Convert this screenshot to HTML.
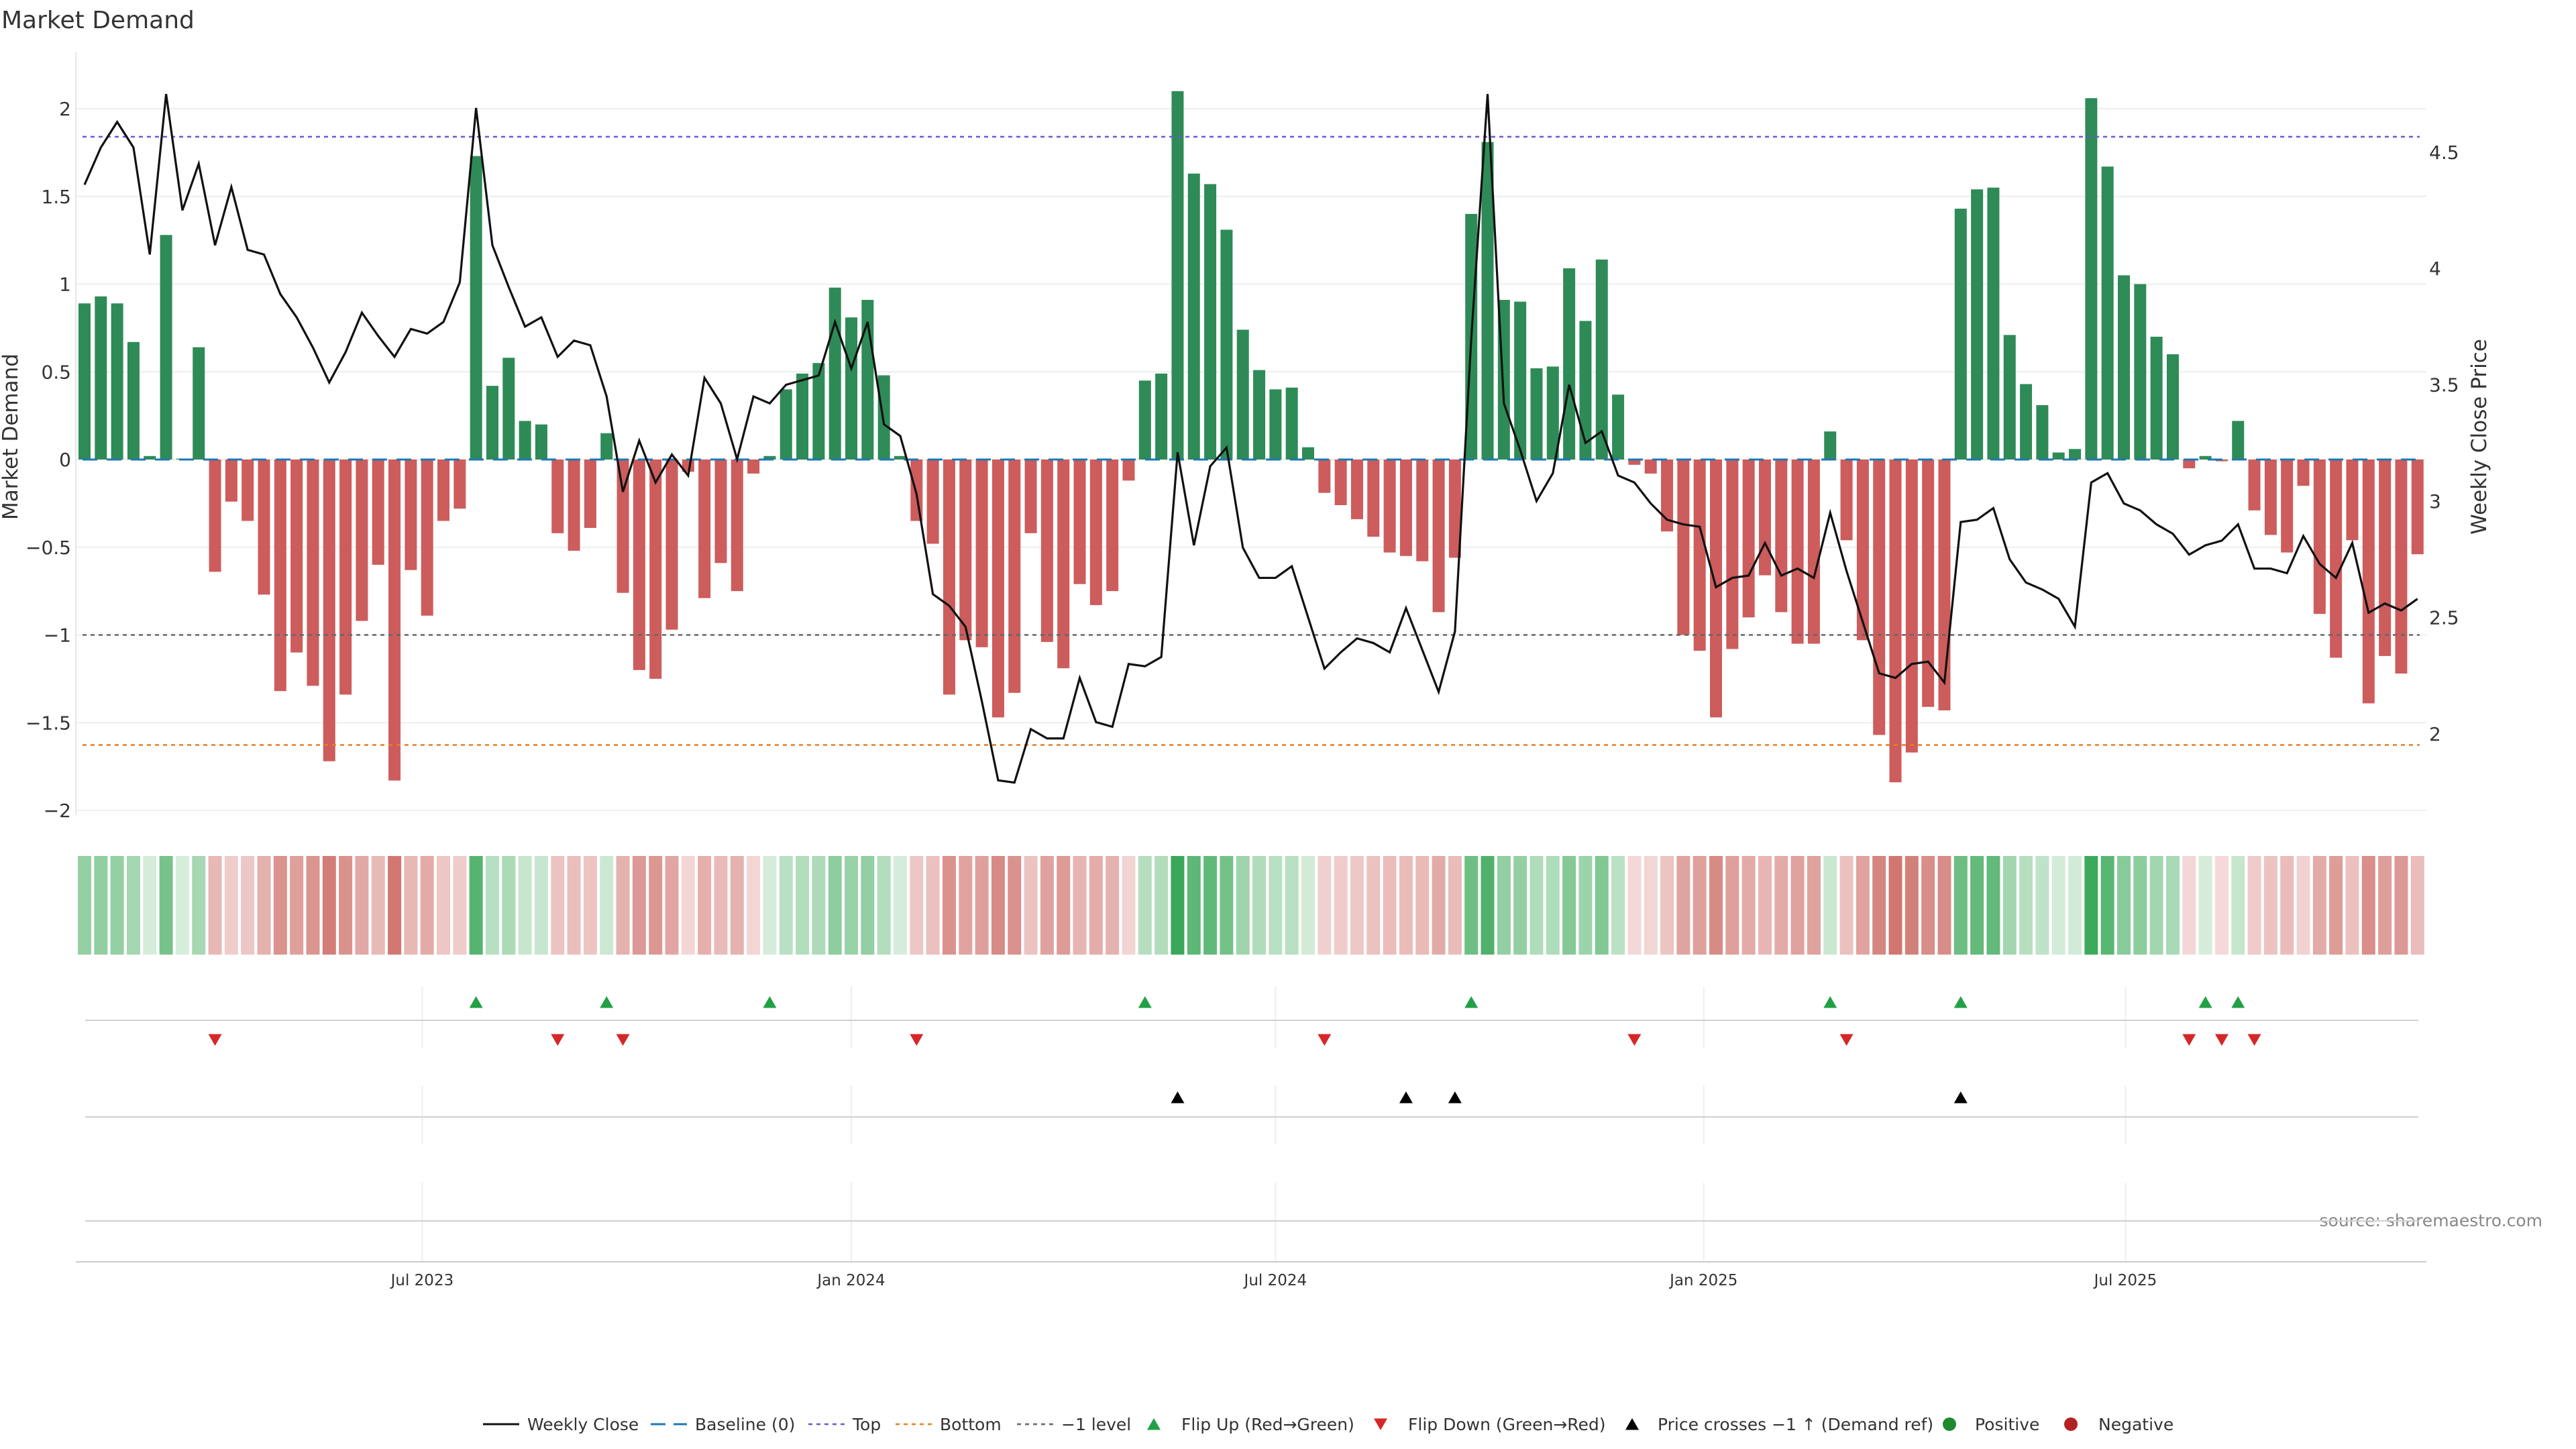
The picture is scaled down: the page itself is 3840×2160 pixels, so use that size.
<!DOCTYPE html>
<html><head><meta charset="utf-8"><title>Market Demand</title>
<style>
html,body{margin:0;padding:0;background:#fff;}
svg{display:block;font-family:"DejaVu Sans","Liberation Sans",sans-serif;}
</style></head>
<body>
<svg id="chart" width="3840" height="2160" viewBox="0 0 3840 2160" xmlns="http://www.w3.org/2000/svg">
<rect x="0" y="0" width="3840" height="2160" fill="#fff"/>
<text x="2" y="42" font-size="36" fill="#333">Market Demand</text>
<text transform="translate(26,651) rotate(-90)" text-anchor="middle" font-size="31" fill="#333">Market Demand</text>
<text transform="translate(3706,651) rotate(-90)" text-anchor="middle" font-size="31" fill="#333">Weekly Close Price</text>
<text x="3790" y="1828" text-anchor="end" font-size="25" fill="#888">source: sharemaestro.com</text>
<g id="grid"></g>
<g id="heat"></g>
<g id="bars"></g>
<g id="lines"></g>
<g id="markers"></g>
<g id="legend"></g>
</svg>
<script>
const demand = [0.89,0.93,0.89,0.67,0.02,1.28,0.005,0.64,-0.64,-0.24,-0.35,-0.77,-1.32,-1.10,-1.29,-1.72,-1.34,-0.92,-0.60,-1.83,-0.63,-0.89,-0.35,-0.28,1.73,0.42,0.58,0.22,0.20,-0.42,-0.52,-0.39,0.15,-0.76,-1.20,-1.25,-0.97,-0.07,-0.79,-0.59,-0.75,-0.08,0.02,0.40,0.49,0.55,0.98,0.81,0.91,
0.48,0.02,-0.35,-0.48,-1.34,-1.03,-1.07,-1.47,-1.33,-0.42,-1.04,-1.19,-0.71,-0.83,-0.75,-0.12,0.45,0.49,2.10,1.63,1.57,1.31,0.74,0.51,0.40,0.41,0.07,-0.19,-0.26,-0.34,-0.44,-0.53,-0.55,-0.58,-0.87,-0.56,1.40,1.81,0.91,0.90,0.52,0.53,1.09,0.79,1.14,0.37,-0.03,-0.08,-0.41,-1.00,-1.09,-1.47,-1.08,
-0.90,-0.66,-0.87,-1.05,-1.05,0.16,-0.46,-1.03,-1.57,-1.84,-1.67,-1.41,-1.43,1.43,1.54,1.55,0.71,0.43,0.31,0.04,0.06,2.06,1.67,1.05,1.00,0.70,0.60,-0.05,0.02,-0.01,0.22,-0.29,-0.43,-0.53,-0.15,-0.88,-1.13,-0.46,-1.39,-1.12,-1.22,-0.54];
const price = [4.36,4.52,4.63,4.52,4.06,4.75,4.25,4.45,4.10,4.35,4.08,4.06,3.89,3.79,3.66,3.51,3.64,3.81,3.71,3.62,3.74,3.72,3.77,3.94,4.69,4.10,3.92,3.75,3.79,3.62,3.69,3.67,3.45,3.04,3.26,3.08,3.20,3.11,3.53,3.42,3.18,3.45,3.42,3.50,3.52,3.54,3.77,3.57,3.77,
3.33,3.28,3.03,2.60,2.55,2.46,2.14,1.80,1.79,2.02,1.98,1.98,2.24,2.05,2.03,2.30,2.29,2.33,3.21,2.81,3.15,3.23,2.80,2.67,2.67,2.72,2.50,2.28,2.35,2.41,2.39,2.35,2.54,2.36,2.18,2.44,3.70,4.75,3.42,3.22,3.00,3.12,3.50,3.25,3.30,3.11,3.08,2.99,2.92,2.90,2.89,2.63,2.67,
2.68,2.82,2.68,2.71,2.67,2.95,2.70,2.48,2.26,2.24,2.30,2.31,2.22,2.91,2.92,2.97,2.75,2.65,2.62,2.58,2.46,3.08,3.12,2.99,2.96,2.90,2.86,2.77,2.81,2.83,2.90,2.71,2.71,2.69,2.85,2.73,2.67,2.82,2.52,2.56,2.53,2.58];
const leftTicks = [-2,-1.5,-1,-0.5,0,0.5,1,1.5,2];
const rightTicks = [2,2.5,3,3.5,4,4.5];
const dateTickLabels = ["Jul 2023","Jan 2024","Jul 2024","Jan 2025","Jul 2025"];
const dateTickWeeks = [20.7,47.0,73.0,99.25,125.1];
const topLevel = 1.84;
const bottomLevel = -1.627;
const minusLevel = -1;

const NS = "http://www.w3.org/2000/svg";
const X0 = 126, DX = 24.32, LEFT = 113, RIGHT = 3617;
function xw(i){ return X0 + i*DX; }
function yd(v){ return 685 - 261.5*v; }
function yp(p){ return 747 - (p-3)*346.8; }
function mk(tag, attrs, parent){ const e=document.createElementNS(NS,tag); for(const k in attrs) e.setAttribute(k,attrs[k]); parent.appendChild(e); return e; }
const grid=document.getElementById('grid'), bars=document.getElementById('bars'), lines=document.getElementById('lines'), heat=document.getElementById('heat'), markers=document.getElementById('markers'), legend=document.getElementById('legend');
const fmt = v => (v<0?"\u2212":"") + String(Math.abs(v));

leftTicks.forEach(v=>{
  const l=mk('line',{x1:LEFT,x2:RIGHT,y1:yd(v),y2:yd(v),stroke:'#eeeeee','stroke-width':2},grid);
  
  
  const t=mk('text',{x:106,y:yd(v)+10,'text-anchor':'end','font-size':28,fill:'#333'},grid);
  t.textContent=fmt(v);
  
  
});
rightTicks.forEach(p=>{
  const t=mk('text',{x:3621,y:yp(p)+10,'font-size':28,fill:'#333'},grid);
  t.textContent=String(p);
  
  
});
const sp=mk('line',{x1:LEFT,x2:LEFT,y1:78,y2:1215,stroke:'#e6e6ee','stroke-width':2},grid);



demand.forEach((v,i)=>{
  const y0=yd(0), y1=yd(v);
  const r=mk('rect',{x:xw(i)-9,y:Math.min(y0,y1),width:18,height:Math.max(1,Math.abs(y1-y0)),fill:v>=0?'#2e8b57':'#cd5c5c'},bars);
  
  
});

function hline(v,color,dash,name,w){
  const l=mk('line',{x1:LEFT+10,x2:RIGHT-10,y1:yd(v),y2:yd(v),stroke:color,'stroke-width':w||2.5,'stroke-dasharray':dash},lines);
  
  
}
hline(0,'#1f77b4','22,14','baseline-zero',3);
hline(topLevel,'#6a5acd','6,6','top-level-line');
hline(bottomLevel,'#e67e22','6,6','bottom-level-line');
hline(minusLevel,'#666666','6,6','minus-one-level-line');

const pl=mk('polyline',{points:price.map((p,i)=>xw(i)+','+yp(p)).join(' '),fill:'none',stroke:'#111','stroke-width':3.2,'stroke-linejoin':'miter'},lines);



const maxAbs=Math.max(...demand.map(Math.abs));
function mix(a,b,t){return 'rgb('+a.map((c,k)=>Math.round(c+(b[k]-c)*t)).join(',')+')';}
demand.forEach((v,i)=>{
  const t=Math.min(1,Math.abs(v)/maxAbs);
  const col = v>=0 ? mix([214,237,219],[58,168,88],t) : mix([244,218,217],[203,105,98],t);
  const r=mk('rect',{x:xw(i)-10,y:1276,width:20,height:147,fill:col},heat);
  
  
});

const panels=[[1471,1562,1521],[1618,1706,1665],[1763,1881,1820]];
panels.forEach(pn=>{
  dateTickWeeks.forEach(w=>{
    const g=mk('line',{x1:xw(w),x2:xw(w),y1:pn[0],y2:pn[1],stroke:'#eeeeee','stroke-width':2},markers);
    
    
  });
  const l=mk('line',{x1:127,x2:3605,y1:pn[2],y2:pn[2],stroke:'#d0d0d0','stroke-width':2},markers);
  
  
});
const ax=mk('line',{x1:LEFT,x2:RIGHT,y1:1881,y2:1881,stroke:'#cccccc','stroke-width':2},markers);


dateTickLabels.forEach((lab,k)=>{
  const t=mk('text',{x:xw(dateTickWeeks[k]),y:1916,'text-anchor':'middle','font-size':23,fill:'#333'},markers);
  t.textContent=lab;
  
  
});
function tri(cx,cy,up,color,parent){
  const s=10;
  const pts= up ? [cx-s,cy+s*0.85, cx+s,cy+s*0.85, cx,cy-s*0.9] : [cx-s,cy-s*0.85, cx+s,cy-s*0.85, cx,cy+s*0.9];
  return mk('polygon',{points:pts.join(','),fill:color},parent);
}
const priceRef = 3 - (yd(minusLevel)-747)/346.8;
for(let i=1;i<demand.length;i++){
  if(demand[i-1]<0 && demand[i]>=0){
    const m=tri(xw(i),1494,true,'#22a045',markers);
    
    
  }
  if(demand[i-1]>=0 && demand[i]<0){
    const m=tri(xw(i),1550,false,'#d62728',markers);
    
    
  }
  if(price[i-1]<priceRef && price[i]>=priceRef){
    const m=tri(xw(i),1636,true,'#000',markers);
    
    
  }
}

const LY=2123;
function legText(x,s){ const t=mk('text',{x:x,y:LY+9,'font-size':25,fill:'#333'},legend); t.textContent=s;   }
function legLine(x,color,dash,w){ const l=mk('line',{x1:x,x2:x+54,y1:LY,y2:LY,stroke:color,'stroke-width':w,'stroke-dasharray':dash},legend);   }
legLine(720,'#111','',3); legText(786,'Weekly Close');
legLine(970,'#1f77b4','22,12',3); legText(1036,'Baseline (0)');
legLine(1205,'#6a5acd','6,6',2.5); legText(1271,'Top');
legLine(1335,'#e67e22','6,6',2.5); legText(1401,'Bottom');
legLine(1516,'#666','6,6',2.5); legText(1582,'\u22121 level');
let s;
s=tri(1720,LY,true,'#22a045',legend);  
legText(1761,'Flip Up (Red\u2192Green)');
s=tri(2058,LY,false,'#d62728',legend);  
legText(2099,'Flip Down (Green\u2192Red)');
s=tri(2433,LY,true,'#000',legend);  
legText(2471,'Price crosses \u22121 \u2191 (Demand ref)');
s=mk('circle',{cx:2906,cy:LY,r:10,fill:'#1e8a2e'},legend);  
legText(2944,'Positive');
s=mk('circle',{cx:3087,cy:LY,r:10,fill:'#b22222'},legend);  
legText(3128,'Negative');
</script>
</body></html>
